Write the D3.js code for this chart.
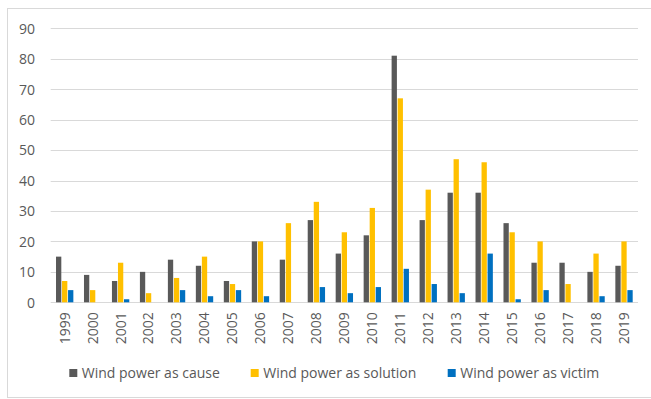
<!DOCTYPE html>
<html>
<head>
<meta charset="utf-8">
<script src="https://cdn.jsdelivr.net/npm/d3@7"></script>
<style>
  html, body { margin: 0; padding: 0; background: #fff; }
  svg { display: block; }
  text { font-family: "Open Sans", sans-serif; fill: #595959; }
</style>
</head>
<body>
<svg id="chart" width="651" height="399"></svg>
<script>
const years = ["1999","2000","2001","2002","2003","2004","2005","2006","2007","2008","2009","2010","2011","2012","2013","2014","2015","2016","2017","2018","2019"];
const seriesNames = ["Wind power as cause", "Wind power as solution", "Wind power as victim"];
const causeValues    = [15, 9, 7, 10, 14, 12, 7, 20, 14, 27, 16, 22, 81, 27, 36, 36, 26, 13, 13, 10, 12];
const solutionValues = [7, 4, 13, 3, 8, 15, 6, 20, 26, 33, 23, 31, 67, 37, 47, 46, 23, 20, 6, 16, 20];
const victimValues   = [4, 0, 1, 0, 4, 2, 4, 2, 0, 5, 3, 5, 11, 6, 3, 16, 1, 4, 0, 2, 4];
const yTicks = [0, 10, 20, 30, 40, 50, 60, 70, 80, 90];
const colors = ["#595959", "#FFC000", "#0070C0"];

const seriesValues = [causeValues, solutionValues, victimValues];
const svg = d3.select("#chart");

// outer border
svg.append("rect")
  .attr("x", 7.5).attr("y", 8.5).attr("width", 650).attr("height", 389)
  .attr("fill", "none").attr("stroke", "#d9d9d9").attr("stroke-width", 1);

const plotLeft = 50.7, plotRight = 638, plotTop = 28.3, plotBottom = 302.3;

const y = d3.scaleLinear().domain([0, 90]).range([plotBottom, plotTop]);
const x0 = d3.scaleBand().domain(years).range([plotLeft, plotRight]).padding(0);
const bw = x0.bandwidth();
const x1 = d3.scaleBand().domain(seriesNames).range([bw * 0.19, bw * 0.81]).paddingInner(0.12);

// gridlines
svg.append("g")
  .selectAll("line")
  .data(yTicks)
  .join("line")
  .attr("x1", plotLeft).attr("x2", plotRight)
  .attr("y1", d => Math.round(y(d)) + 0.5)
  .attr("y2", d => Math.round(y(d)) + 0.5)
  .attr("stroke", "#d9d9d9").attr("stroke-width", 1);

// y axis labels
const yAxis = d3.axisLeft(y).tickValues(yTicks).tickSize(0).tickPadding(0);
const gy = svg.append("g").attr("transform", "translate(35,0)").call(yAxis);
gy.select(".domain").remove();
gy.selectAll("text")
  .attr("font-family", "'Open Sans', sans-serif")
  .attr("font-size", 14)
  .attr("fill", "#595959")
  .attr("dy", "0.35em");

// bars
const groups = svg.append("g")
  .selectAll("g")
  .data(years)
  .join("g")
  .attr("transform", d => `translate(${x0(d)},0)`);

groups.selectAll("rect")
  .data((d, i) => seriesNames.map((s, k) => ({ s, k, v: seriesValues[k][i] })))
  .join("rect")
  .attr("x", d => x1(d.s))
  .attr("width", x1.bandwidth())
  .attr("y", d => y(d.v))
  .attr("height", d => y(0) - y(d.v))
  .attr("fill", d => colors[d.k]);

// x axis labels (rotated)
const xAxis = d3.axisBottom(x0).tickSize(0).tickPadding(0);
const gx = svg.append("g").attr("transform", `translate(0,${plotBottom})`).call(xAxis);
gx.select(".domain").remove();
gx.selectAll("text")
  .attr("font-family", "'Open Sans', sans-serif")
  .attr("font-size", 14)
  .attr("fill", "#595959")
  .attr("transform", "rotate(-90)")
  .attr("text-anchor", "end")
  .attr("x", -10)
  .attr("y", 0)
  .attr("dy", "0.35em");

// legend
const legendX = [69.3, 250.7, 447.7];
const legendY = 373;
const lg = svg.append("g")
  .selectAll("g")
  .data(seriesNames)
  .join("g")
  .attr("transform", (d, i) => `translate(${legendX[i]},${legendY})`);
lg.append("rect")
  .attr("x", 0).attr("y", -4).attr("width", 8).attr("height", 8)
  .attr("fill", (d, i) => colors[i]);
lg.append("text")
  .attr("x", 12.5).attr("y", 0).attr("dy", "0.35em")
  .attr("font-size", 14)
  .text(d => d);
</script>
</body>
</html>
